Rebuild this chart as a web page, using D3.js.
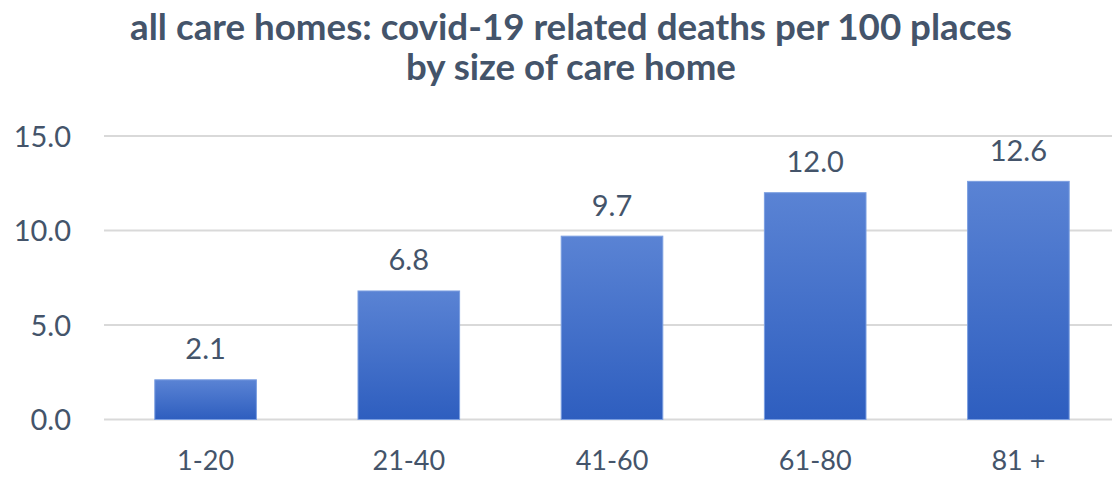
<!DOCTYPE html>
<html><head><meta charset="utf-8">
<script src="https://cdn.jsdelivr.net/npm/d3@7"></script>
<style>body{margin:0;background:#fff}svg{display:block}</style>
</head><body>
<svg id="c" width="1112" height="477"></svg>
<script>
const categories = ["1-20", "21-40", "41-60", "61-80", "81 +"];
const values = [2.1, 6.8, 9.7, 12.0, 12.6];
const yTicks = [0, 5, 10, 15];
const titleLines = ["all care homes: covid-19 related deaths per 100 places", "by size of care home"];

const svg = d3.select("#c");
const font = "Lato, 'Open Sans', sans-serif";
const txt = "#44546a";

const x = d3.scaleBand().domain(categories).range([104, 1120]).paddingInner(0.5).paddingOuter(0.25);
const y = d3.scaleLinear().domain([0, 15]).range([419.5, 136]);

const defs = svg.append("defs");
const g = defs.append("linearGradient").attr("id","bg").attr("x1",0).attr("y1",0).attr("x2",0).attr("y2",1);
g.append("stop").attr("offset","0%").attr("stop-color","#5a83d4");
g.append("stop").attr("offset","100%").attr("stop-color","#2e5ebf");

// gridlines
svg.append("g").selectAll("line").data(yTicks).join("line")
  .attr("x1",104).attr("x2",1112).attr("y1",d=>y(d)).attr("y2",d=>y(d))
  .attr("stroke","#d9d9d9").attr("stroke-width",2);

// y axis labels
const yAxis = d3.axisLeft(y).tickValues(yTicks).tickFormat(d3.format(".1f")).tickSize(0).tickPadding(0);
const ya = svg.append("g").attr("transform","translate(71,0)").call(yAxis);
ya.select(".domain").remove();
ya.selectAll("text").attr("font-family",font).attr("font-size",29).attr("fill",txt).attr("dy","0.36em");

// x axis labels
const xAxis = d3.axisBottom(x).tickSize(0).tickPadding(0);
const xa = svg.append("g").attr("transform","translate(0,470)").call(xAxis);
xa.select(".domain").remove();
xa.selectAll("text").attr("font-family",font).attr("font-size",27).attr("fill",txt).attr("dy",0);

// bars
svg.append("g").selectAll("rect").data(values).join("rect")
  .attr("x",(d,i)=>x(categories[i])).attr("width",x.bandwidth())
  .attr("y",d=>y(d)).attr("height",d=>y(0)-y(d))
  .attr("fill","url(#bg)").attr("stroke","#7b9ee0").attr("stroke-width",1);

// data labels
svg.append("g").selectAll("text").data(values).join("text")
  .attr("x",(d,i)=>x(categories[i])+x.bandwidth()/2).attr("y",d=>y(d)-20.5)
  .attr("text-anchor","middle").attr("font-family",font).attr("font-size",29).attr("fill",txt)
  .text(d=>d3.format(".1f")(d));

// title
const tw = [882, 330];
const ty = [40, 80];
titleLines.forEach((t,i)=>{
  const el = svg.append("text").attr("x",571).attr("y",ty[i]).attr("text-anchor","middle")
    .attr("font-family",font).attr("font-weight","bold").attr("font-size",30).attr("fill",txt).text(t);
  const w = el.node().getComputedTextLength();
  el.attr("font-size", 30*tw[i]/w);
});
</script>
</body></html>
